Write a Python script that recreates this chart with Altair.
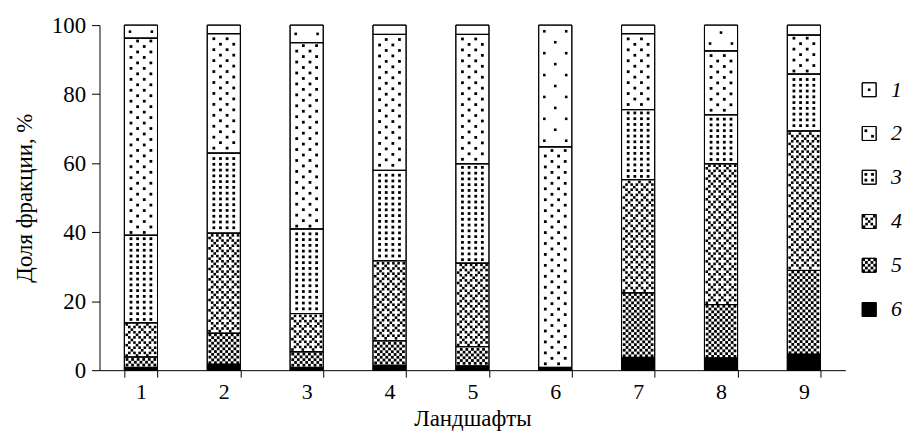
import altair as alt
import pandas as pd

landscapes = ["1", "2", "3", "4", "5", "6", "7", "8", "9"]
fractions = ["1", "2", "3", "4", "5", "6"]
frac1 = [3.8, 2.5, 5.1, 2.7, 2.7, 35.3, 2.5, 7.5, 2.9]
frac2 = [57.1, 34.6, 54.0, 39.4, 37.5, 63.9, 22.0, 18.5, 11.3]
frac3 = [25.4, 23.2, 24.5, 26.2, 28.8, 0.0, 20.3, 14.2, 16.5]
frac4 = [9.9, 29.0, 11.1, 23.2, 24.2, 0.0, 32.8, 40.8, 40.4]
frac5 = [3.0, 9.0, 4.5, 7.1, 5.6, 0.0, 18.7, 15.5, 24.3]
frac6 = [0.8, 1.7, 0.8, 1.4, 1.2, 0.8, 3.7, 3.5, 4.6]
series = [frac1, frac2, frac3, frac4, frac5, frac6]

# legend layout (swatch centres, px from top of plot area)
legend_y = [65, 109, 153, 197.5, 241.5, 286]

rows = []
for k, (f, vals) in enumerate(zip(fractions, series)):
    for i, (b, v) in enumerate(zip(landscapes, vals)):
        rows.append({"bar": b, "idx": i + 1, "frac": f, "value": v, "rank": 6 - k})
df = pd.DataFrame(rows)
legend_df = pd.DataFrame({"frac": fractions, "cy": legend_y})

# hatch-like patterns (cell width/height in px, rule, dot side)
PATTERNS = {
    "1": dict(cw=11.0, ch=11.0, kind="stagger", side=2.6),
    "2": dict(cw=6.67, ch=5.5, kind="stagger", side=2.8),
    "3": dict(cw=6.67, ch=5.8, kind="grid", side=2.8),
    "4": dict(cw=2.6, ch=2.6, kind="x4", side=2.6),
    "5": dict(cw=2.8, ch=2.8, kind="checker", side=2.8),
}


def sw(key):
    expr = "0"
    for f, p in PATTERNS.items():
        val = p[key]
        val = f"'{val}'" if isinstance(val, str) else str(val)
        expr = f"datum.frac == '{f}' ? {val} : ({expr})"
    return expr


FONT = "Liberation Serif, Times New Roman, Times, DejaVu Serif, serif"
W, H = 750, 347
PPU = H / 100.0
STEP = W / 9
BW = STEP * 0.4

y_scale = alt.Scale(domain=[0, 100], nice=False)
y_axis = alt.Axis(values=[0, 20, 40, 60, 80, 100], tickSize=8, labelPadding=6,
                  titlePadding=15, grid=False, labelFontSize=23)
y_title = "Доля фракции, %"


def pattern_layer(chart, ppu, bw, px_expr, x_scale, y_enc):
    return (
        chart.transform_filter("datum.frac != '6' && datum.y1 > datum.y0")
        .transform_calculate(cw=sw("cw"), ch=sw("ch"), kind=sw("kind"), side=sw("side"))
        .transform_calculate(
            nrow=f"floor((datum.y1 - datum.y0) * {ppu} / datum.ch)",
            ncol=f"floor({bw} / datum.cw)",
        )
        .transform_calculate(rows="sequence(0, datum.nrow)", cols="sequence(0, datum.ncol)")
        .transform_flatten(["rows"], as_=["i"])
        .transform_flatten(["cols"], as_=["j"])
        .transform_filter(
            "datum.kind == 'grid' || (datum.kind == 'x4' ? "
            "((datum.i - datum.j) % 4 == 0 || (datum.i + datum.j) % 4 == 0) : "
            "(datum.i + datum.j) % 2 == 0)"
        )
        .transform_calculate(
            dy=f"datum.y0 + ((datum.y1 - datum.y0) * {ppu} - datum.nrow * datum.ch) / (2 * {ppu})"
               f" + (datum.i + 0.5) * datum.ch / {ppu}",
            dx=f"({bw} - datum.ncol * datum.cw) / 2 + (datum.j + 0.5) * datum.cw",
            sz="datum.side * datum.side",
        )
        .transform_calculate(px=px_expr)
        .mark_square(color="black", opacity=1, filled=True, strokeWidth=0)
        .encode(
            x=alt.X("px:Q", scale=x_scale, axis=None),
            y=y_enc,
            size=alt.Size("sz:Q", scale=None, legend=None),
        )
    )


stacked = (
    alt.Chart(df)
    .transform_filter("datum.value > 0")
    .transform_stack(
        stack="value",
        groupby=["bar"],
        as_=["y0", "y1"],
        sort=[alt.SortField("rank", order="ascending")],
    )
)

x_axis = alt.Axis(
    labelAngle=0, tickBand="extent", tickSize=7, labelPadding=4, titlePadding=6,
    labelFontSize=22,
)
x_scale_band = alt.Scale(paddingInner=0.6, paddingOuter=0.3)

bars = stacked.mark_bar(stroke="black", strokeWidth=1).encode(
    x=alt.X("bar:N", sort=landscapes, title="Ландшафты", scale=x_scale_band, axis=x_axis),
    y=alt.Y("y0:Q", scale=y_scale, axis=y_axis, title=y_title),
    y2="y1:Q",
    fill=alt.condition("datum.frac == '6'", alt.value("black"), alt.value("white")),
)
dots = pattern_layer(
    stacked, PPU, BW, f"datum.idx - 0.2 + datum.dx / {STEP}",
    alt.Scale(domain=[0.5, 9.5], nice=False, zero=False),
    alt.Y("dy:Q", scale=y_scale, axis=y_axis, title=y_title),
)
outline = stacked.mark_bar(fillOpacity=0, stroke="black", strokeWidth=1).encode(
    x=alt.X("bar:N", sort=landscapes, scale=x_scale_band, axis=None),
    y=alt.Y("y0:Q", scale=y_scale, axis=y_axis, title=y_title),
    y2="y1:Q",
)
main = (
    alt.layer(bars, dots, outline)
    .resolve_scale(x="independent")
    .properties(width=W, height=H)
)

# legend
LB = 14
lbase = alt.Chart(legend_df).transform_calculate(
    lx0="0", lx1=str(LB), y0=f"datum.cy - {LB/2}", y1=f"datum.cy + {LB/2}"
)
lx_scale = alt.Scale(domain=[0, LB], nice=False, zero=False)
ly_scale = alt.Scale(domain=[0, H], nice=False, reverse=True)
lbars = lbase.mark_rect(stroke="black", strokeWidth=1).encode(
    x=alt.X("lx0:Q", scale=lx_scale, axis=None),
    x2="lx1:Q",
    y=alt.Y("y0:Q", scale=ly_scale, axis=None),
    y2="y1:Q",
    fill=alt.condition("datum.frac == '6'", alt.value("black"), alt.value("white")),
)
ldots = pattern_layer(lbase, 1.0, LB, "datum.dx", lx_scale,
                      alt.Y("dy:Q", scale=ly_scale, axis=None))
loutline = lbase.mark_rect(fillOpacity=0, stroke="black", strokeWidth=1).encode(
    x=alt.X("lx0:Q", scale=lx_scale, axis=None),
    x2="lx1:Q",
    y=alt.Y("y0:Q", scale=ly_scale, axis=None),
    y2="y1:Q",
)
ltext = lbase.mark_text(
    align="left", baseline="middle", dx=15, font=FONT, fontStyle="italic", fontSize=22, color="black"
).encode(
    x=alt.X("lx1:Q", scale=lx_scale, axis=None),
    y=alt.Y("cy:Q", scale=ly_scale, axis=None),
    text="frac:N",
)
legend = alt.layer(lbars, ldots, loutline, ltext).properties(width=LB, height=H)

chart = (
    alt.hconcat(main, legend, spacing=17, bounds="flush")
    .properties(padding={"left": 5, "top": 5, "right": 0, "bottom": 5})
    .configure(font=FONT)
    .configure_view(strokeWidth=0, stroke="transparent")
    .configure_axis(
        labelFont=FONT, titleFont=FONT, titleFontSize=23,
        titleFontWeight="normal", labelColor="black", titleColor="black",
        domainColor="black", tickColor="black", domainWidth=1, tickWidth=1,
    )
)

chart.save("out.html", embed_options={"renderer": "svg", "actions": False})
